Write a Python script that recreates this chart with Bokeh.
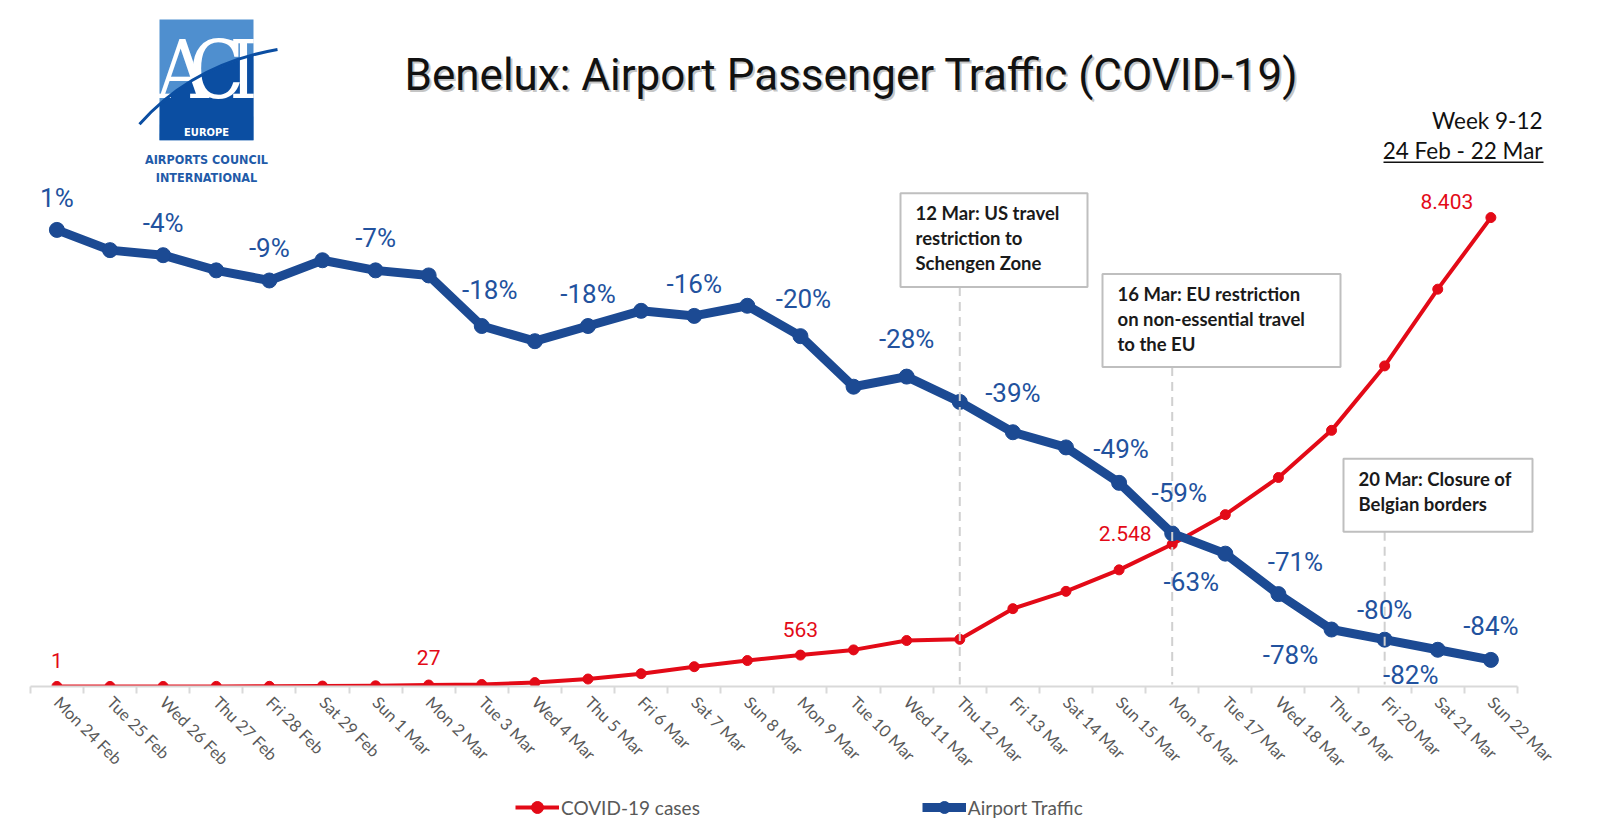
import numpy as np
from bokeh.plotting import figure
from bokeh.layouts import column
from bokeh.models import Range1d, FixedTicker, Legend, LegendItem, ColumnDataSource
from bokeh.core.properties import value
from bokeh.embed import file_html
from bokeh.resources import INLINE

# ---------------- data ----------------
days = ["Mon 24 Feb", "Tue 25 Feb", "Wed 26 Feb", "Thu 27 Feb", "Fri 28 Feb", "Sat 29 Feb",
        "Sun 1 Mar", "Mon 2 Mar", "Tue 3 Mar", "Wed 4 Mar", "Thu 5 Mar", "Fri 6 Mar",
        "Sat 7 Mar", "Sun 8 Mar", "Mon 9 Mar", "Tue 10 Mar", "Wed 11 Mar", "Thu 12 Mar",
        "Fri 13 Mar", "Sat 14 Mar", "Sun 15 Mar", "Mon 16 Mar", "Tue 17 Mar", "Wed 18 Mar",
        "Thu 19 Mar", "Fri 20 Mar", "Sat 21 Mar", "Sun 22 Mar"]
traffic_pct = [1, -3, -4, -7, -9, -5, -7, -8, -18, -21, -18, -15, -16, -14,
               -20, -30, -28, -33, -39, -42, -49, -59, -63, -71, -78, -80, -82, -84]
covid_cases = [1, 1, 1, 2, 3, 8, 12, 27, 36, 70, 134, 230, 355, 465,
               563, 656, 824, 845, 1395, 1705, 2090, 2548, 3080, 3745, 4590, 5745, 7120, 8403]
traffic_label_days = [0, 2, 4, 6, 8, 10, 12, 14, 16, 18, 20, 21, 22, 23, 24, 25, 26, 27]
cases_label_days = [0, 7, 14, 21, 27]
event_days = [17, 21, 25]
event_texts = [["12 Mar: US travel", "restriction to", "Schengen Zone"],
               ["16 Mar: EU restriction", "on non-essential travel", "to the EU"],
               ["20 Mar: Closure of", "Belgian borders"]]
title_text = "Benelux: Airport Passenger Traffic (COVID-19)"
period_texts = ["Week 9-12", "24 Feb - 22 Mar"]
series_names = ["COVID-19 cases", "Airport Traffic"]

# ---------------- layout / style ----------------
W, H = 1608, 839
MAIN_H = 780
LEG_H = H - MAIN_H
AXIS_Y = 687          # pixel row of the category axis
X0_PX, STEP_PX = 56.4, 53.11
ZERO_PCT_PX, PX_PER_PCT = 234.8, 5.066
PX_PER_CASE = (AXIS_Y - 217.4) / 8403.0

BLUE = "#1C4A93"
BLUE_TXT = "#22529E"
RED = "#E30A17"
GRAY_TXT = "#595959"
LABEL_FONT = "Roboto"
BODY = "Lato"
COND = "DejaVu Sans Condensed"

x_start = -X0_PX / STEP_PX
x_end = (W - X0_PX) / STEP_PX
pct_top = ZERO_PCT_PX / PX_PER_PCT
pct_bottom = -(AXIS_Y - ZERO_PCT_PX) / PX_PER_PCT
cases_top = AXIS_Y / PX_PER_CASE

p = figure(width=W, height=MAIN_H, x_range=Range1d(x_start, x_end),
           y_range=Range1d(pct_bottom, pct_top),
           output_backend="svg", toolbar_location=None,
           min_border_left=0, min_border_right=0, min_border_top=0,
           min_border_bottom=MAIN_H - AXIS_Y, y_axis_location=None,
           background_fill_color="white", border_fill_color="white",
           outline_line_color=None)
p.grid.grid_line_color = None
p.extra_y_ranges = {"cases": Range1d(0, cases_top), "px": Range1d(AXIS_Y, 0)}
p.extra_x_ranges = {"px": Range1d(0, W)}

# x axis
n = len(days)
p.xaxis.ticker = FixedTicker(ticks=list(range(n)), minor_ticks=[i - 0.5 for i in range(n + 1)])
p.xaxis.major_label_overrides = {i: d for i, d in enumerate(days)}
p.xaxis.bounds = (-0.5, n - 0.5)
p.xaxis.axis_line_color = "#D9D9D9"
p.xaxis.axis_line_width = 2
p.xaxis.major_tick_line_color = None
p.xaxis.minor_tick_line_color = "#D9D9D9"
p.xaxis.minor_tick_line_width = 2
p.xaxis.minor_tick_in = 0
p.xaxis.minor_tick_out = 7
p.xaxis.major_label_orientation = -np.pi / 4
p.xaxis.major_label_standoff = 6
p.xaxis.major_label_text_font = BODY
p.xaxis.major_label_text_font_size = "16.5px"
p.xaxis.major_label_text_color = GRAY_TXT

xs = list(range(n))

# ---------------- series ----------------
p.line(xs, covid_cases, y_range_name="cases", color=RED, line_width=4, line_join="round")
p.scatter(xs, covid_cases, y_range_name="cases", color=RED, size=10)
p.line(xs, traffic_pct, color=BLUE, line_width=9, line_join="round")
p.scatter(xs, traffic_pct, color=BLUE, size=15)

# event marker lines
box_left = [900, 1102, 1343]
box_right = [1087, 1340, 1532]
box_top = [193, 274, 459]
box_bottom = [287, 367, 532]
p.segment(x0=event_days, x1=event_days, y0=box_bottom, y1=[AXIS_Y - 2] * 3,
          y_range_name="px", line_color="#D0D0D0", line_width=2, line_dash="9 6")

# data labels
def fmt_cases(v):
    return f"{v:,}".replace(",", ".")

t_dx = [0, 0, 0, 0, 8, 0, 0, 3, 0, 0, 2, 7, -34, 17, -41, 0, -27, 0]
t_dy = [-32, -32, -32, -32, -36, -32, -32, -37, -38, -39, -34, -40, 28, -32, 25, -30, 25, -34]
tsrc = ColumnDataSource(dict(x=traffic_label_days,
                             y=[traffic_pct[i] for i in traffic_label_days],
                             t=[f"{traffic_pct[i]}%" for i in traffic_label_days],
                             dx=t_dx, dy=t_dy))
p.text(x="x", y="y", text="t", x_offset="dx", y_offset="dy", source=tsrc,
       text_font=value(LABEL_FONT), text_font_size="26px", text_color=BLUE_TXT,
       text_align="center", text_baseline="middle")

c_dx = [0, 0, 0, -47, -44]
c_dy = [-26, -27, -26, -11, -16]
csrc = ColumnDataSource(dict(x=cases_label_days,
                             y=[covid_cases[i] for i in cases_label_days],
                             t=[fmt_cases(covid_cases[i]) for i in cases_label_days],
                             dx=c_dx, dy=c_dy))
p.text(x="x", y="y", text="t", x_offset="dx", y_offset="dy", source=csrc,
       y_range_name="cases", text_font=value(LABEL_FONT), text_font_size="21px",
       text_color=RED, text_align="center", text_baseline="middle")

# event boxes
p.quad(left=box_left, right=box_right, top=box_top, bottom=box_bottom,
       x_range_name="px", y_range_name="px", fill_color="white",
       line_color="#BFBFBF", line_width=2)
ex, ey, et = [], [], []
for bl, bt, lines in zip(box_left, box_top, event_texts):
    for k, line in enumerate(lines):
        ex.append(bl + 15)
        ey.append(bt + 20 + 25 * k)
        et.append(line)
p.text(x=ex, y=ey, text=et, x_range_name="px", y_range_name="px",
       text_font=value(BODY), text_font_style="bold", text_font_size="18.5px",
       text_color="#1A1A1A", text_align="left", text_baseline="middle")

# title with shadow
p.text(x=[853], y=[77], text=[title_text], x_range_name="px", y_range_name="px",
       text_font=value("Roboto"), text_font_size="44px", text_color="#9E9E9E",
       text_alpha=0.6, text_align="center", text_baseline="middle")
p.text(x=[851], y=[75], text=[title_text], x_range_name="px", y_range_name="px",
       text_font=value("Roboto"), text_font_size="44px", text_color="#111111",
       text_align="center", text_baseline="middle")

# period text
p.text(x=[1542, 1542], y=[120, 150], text=period_texts, x_range_name="px", y_range_name="px",
       text_font=value(BODY), text_font_size="22.5px", text_color="#111111",
       text_align="right", text_baseline="middle")
p.segment(x0=[1383], x1=[1543], y0=[162], y1=[162], x_range_name="px", y_range_name="px",
          line_color="#111111", line_width=1.5)

# ---------------- ACI logo ----------------
LB, DB = "#4F8FCF", "#0B4EA2"
sq_l, sq_r, sq_t, sq_b = 159, 253, 19, 140
p.quad(left=[sq_l], right=[sq_r], top=[sq_t], bottom=[sq_b], x_range_name="px",
       y_range_name="px", fill_color=LB, line_color=None)
P0, C, P2 = np.array([139.0, 124.0]), np.array([192.0, 64.0]), np.array([277.0, 49.0])
tt = np.linspace(0, 1, 200)
curve = ((1 - tt)[:, None] ** 2) * P0 + (2 * (1 - tt) * tt)[:, None] * C + (tt[:, None] ** 2) * P2
inside = (curve[:, 0] >= sq_l) & (curve[:, 0] <= sq_r)
cx = list(curve[inside, 0]) + [sq_r, sq_l]
cy = list(curve[inside, 1] + 1) + [sq_b, sq_b]
p.patch(cx, cy, x_range_name="px", y_range_name="px", fill_color=DB, line_color=None)
p.text(x=[182, 216, 243], y=[70, 70, 70], text=["A", "C", "I"], x_range_name="px",
       y_range_name="px", text_font=value("DejaVu Serif Condensed"), text_font_size="80px",
       text_color="white", text_align="center", text_baseline="middle")
p.quadratic(x0=[P0[0]], y0=[P0[1]], x1=[P2[0]], y1=[P2[1]], cx=[C[0]], cy=[C[1]],
            x_range_name="px", y_range_name="px", line_color=DB, line_width=3)
p.text(x=[206], y=[132], text=["EUROPE"], x_range_name="px", y_range_name="px",
       text_font=value(COND), text_font_style="bold", text_font_size="11px",
       text_color="white", text_align="center", text_baseline="middle")
p.text(x=[206, 206], y=[159, 177], text=["AIRPORTS COUNCIL", "INTERNATIONAL"],
       x_range_name="px", y_range_name="px", text_font=value(COND),
       text_font_style="bold", text_font_size="12.5px", text_color="#1F5BA9",
       text_align="center", text_baseline="middle")

# ---------------- legend strip ----------------
lg = figure(width=W, height=LEG_H, x_range=Range1d(0, 1), y_range=Range1d(0, 1),
            output_backend="svg", toolbar_location=None,
            min_border_left=0, min_border_right=0, min_border_top=0, min_border_bottom=0,
            x_axis_location=None, y_axis_location=None, outline_line_color=None,
            background_fill_color="white", border_fill_color="white")
lg.grid.grid_line_color = None
off = [-10, -9]
lr1 = lg.line(off, off, color=RED, line_width=4)
lr2 = lg.scatter(off, off, color=RED, size=10)
lb1 = lg.line(off, off, color=BLUE, line_width=9)
lb2 = lg.scatter(off, off, color=BLUE, size=15)
legend = Legend(items=[LegendItem(label=series_names[0], renderers=[lr1, lr2]),
                       LegendItem(label=series_names[1], renderers=[lb1, lb2])],
                location=(515, 17), orientation="horizontal", glyph_width=44,
                glyph_height=30, label_standoff=2, spacing=222, padding=0, margin=0,
                border_line_color=None, background_fill_alpha=0,
                label_text_font=BODY, label_text_font_size="19px",
                label_text_color=GRAY_TXT)
lg.add_layout(legend)

page = column(p, lg, spacing=0)
open("out.html", "w").write(file_html(page, INLINE))
